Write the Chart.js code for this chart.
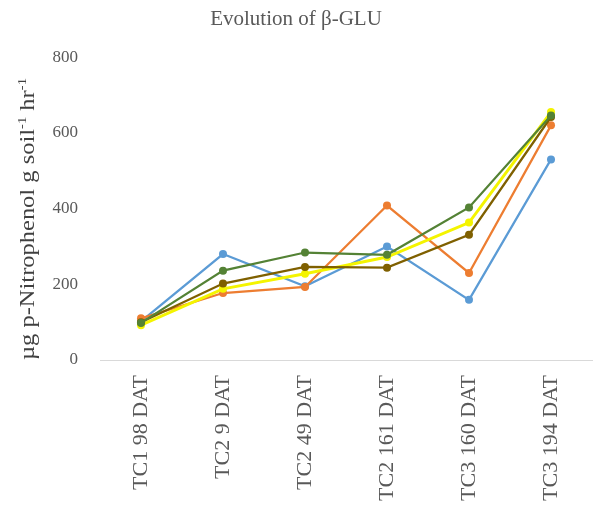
<!DOCTYPE html>
<html>
<head>
<meta charset="utf-8">
<script src="https://cdn.jsdelivr.net/npm/chart.js@4/dist/chart.umd.min.js"></script>
<style>
  html, body { margin: 0; padding: 0; background: #ffffff; }
  #wrap { width: 596px; height: 518px; }
</style>
</head>
<body>
<div id="wrap"><canvas id="c" width="596" height="518"></canvas></div>
<script>
// Sampling dates
const categories = ['TC1 98 DAT', 'TC2 9 DAT', 'TC2 49 DAT', 'TC2 161 DAT', 'TC3 160 DAT', 'TC3 194 DAT'];

// β-glucosidase activity per treatment (µg p-Nitrophenol g soil⁻¹ hr⁻¹)
const seriesBlue   = [102, 280, 195, 300, 159, 530];
const seriesOrange = [110, 177, 193, 408, 230, 620];
const seriesYellow = [92, 188, 228, 272, 363, 655];
const seriesOlive  = [100, 202, 246, 244, 331, 642];
const seriesGreen  = [98, 236, 284, 278, 403, 646];

const yTicks = [0, 200, 400, 600, 800];

const serif = "'Liberation Serif', 'DejaVu Serif', serif";
const textGray = '#595959';

function line(data, color, width, order) {
  return {
    data: data,
    borderColor: color,
    backgroundColor: color,
    borderWidth: width,
    pointRadius: 4,
    pointHoverRadius: 4,
    pointBorderWidth: 0,
    tension: 0,
    fill: false,
    order: order
  };
}

// Vertical axis caption with superscript units, centred beside the plot
const yCaption = {
  id: 'yCaption',
  afterDraw(chart) {
    const ctx = chart.ctx;
    const main = 'µg p-Nitrophenol g soil';
    const sup = '-1';
    const mid = ' hr';
    const big = "20px 'Liberation Serif', 'DejaVu Serif', serif";
    const small = "12px 'Liberation Serif', 'DejaVu Serif', serif";
    const span = 282;
    ctx.save();
    ctx.font = big;
    const wMain = ctx.measureText(main).width;
    const wMid = ctx.measureText(mid).width;
    ctx.font = small;
    const wSup = ctx.measureText(sup).width;
    const total = wMain + wSup + wMid + wSup;
    ctx.translate(34, 219);
    ctx.rotate(-Math.PI / 2);
    ctx.scale(span / total, 1);
    ctx.fillStyle = '#404040';
    ctx.textBaseline = 'alphabetic';
    ctx.textAlign = 'left';
    let x = -total / 2;
    ctx.font = big;
    ctx.fillText(main, x, 0); x += wMain;
    ctx.font = small;
    ctx.fillText(sup, x, -8); x += wSup;
    ctx.font = big;
    ctx.fillText(mid, x, 0); x += wMid;
    ctx.font = small;
    ctx.fillText(sup, x, -8);
    ctx.restore();
  }
};

new Chart(document.getElementById('c'), {
  type: 'line',
  data: {
    labels: categories,
    datasets: [
      line(seriesBlue,   '#5B9BD5', 2.25, 5),
      line(seriesOrange, '#ED7D31', 2.25, 4),
      line(seriesYellow, '#F4F400', 3,    3),
      line(seriesOlive,  '#7F6000', 2.25, 2),
      line(seriesGreen,  '#548235', 2.25, 1)
    ]
  },
  plugins: [yCaption],
  options: {
    responsive: false,
    animation: false,
    events: [],
    layout: { padding: { left: 0, right: 4, top: 0, bottom: 0 } },
    plugins: {
      legend: { display: false },
      tooltip: { enabled: false },
      title: {
        display: true,
        text: 'Evolution of β-GLU',
        color: textGray,
        font: { family: serif, size: 21, weight: 'normal' },
        padding: { top: 7, bottom: 25 }
      }
    },
    scales: {
      x: {
        offset: true,
        grid: { display: false, drawTicks: false },
        border: { display: true, color: '#D9D9D9', width: 1 },
        ticks: {
          color: textGray,
          font: { family: serif, size: 22 },
          maxRotation: 90,
          minRotation: 90,
          padding: 15,
          autoSkip: false
        },
        afterFit: s => { s.height = 158; }
      },
      y: {
        min: 0,
        max: 800,
        grid: { display: false, drawTicks: false },
        border: { display: false },
        afterBuildTicks: s => { s.ticks = yTicks.map(v => ({ value: v })); },
        ticks: {
          color: textGray,
          font: { family: serif, size: 17 },
          padding: 22
        },
        afterFit: s => { s.width = 100; }
      }
    }
  }
});
</script>
</body>
</html>
